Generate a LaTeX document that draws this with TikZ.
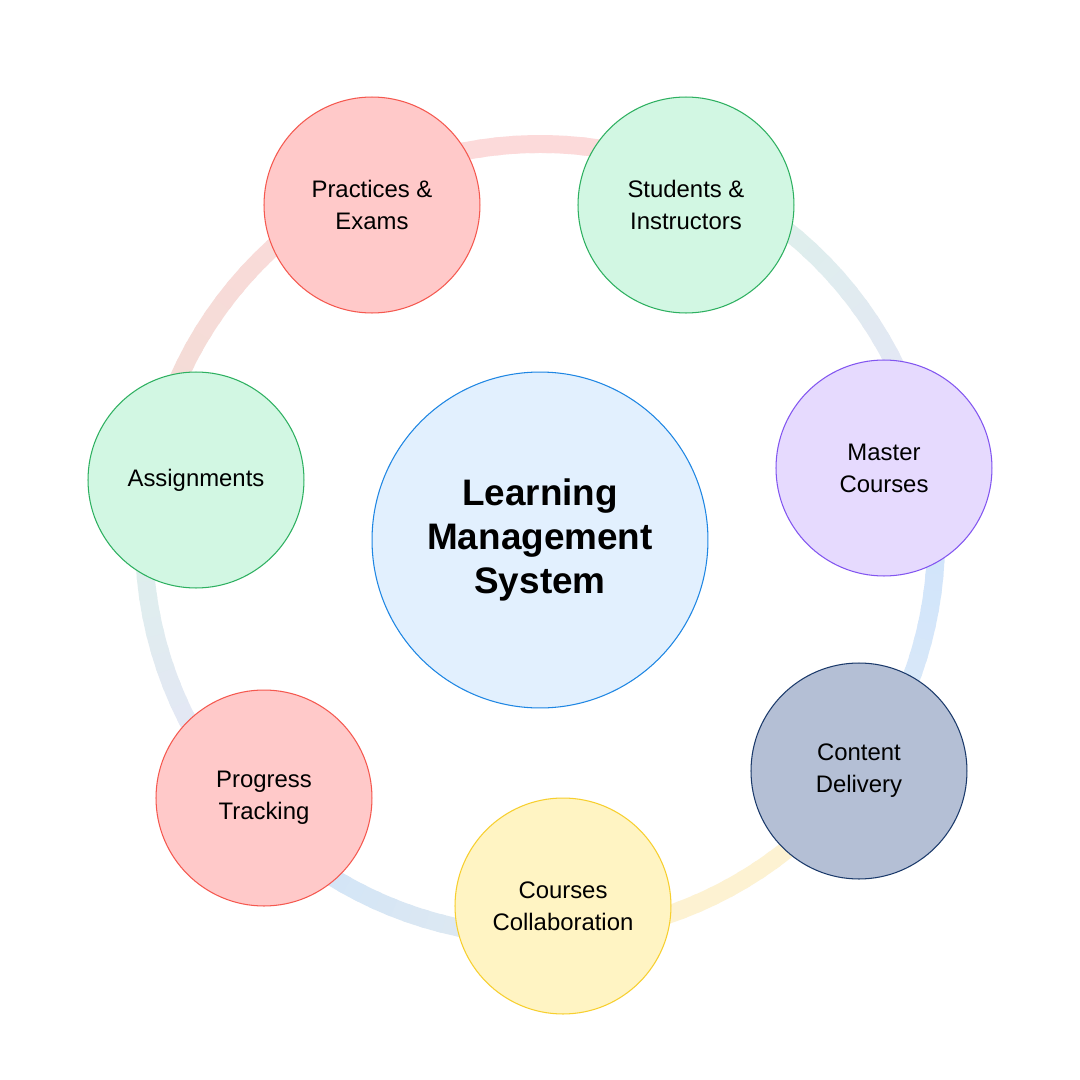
\documentclass[tikz,border=0pt]{standalone}
\usepackage{fontspec}
\setmainfont{Liberation Sans}
\definecolor{red1}{HTML}{FFC9C9}
\definecolor{red2}{HTML}{F5584F}
\definecolor{green1}{HTML}{D2F7E3}
\definecolor{green2}{HTML}{2DB060}
\definecolor{violet1}{HTML}{E6DAFE}
\definecolor{violet2}{HTML}{8255F0}
\definecolor{navy1}{HTML}{B4BFD5}
\definecolor{navy2}{HTML}{1B3A6B}
\definecolor{yellow1}{HTML}{FFF4C3}
\definecolor{yellow2}{HTML}{F7CF2E}
\definecolor{blue1}{HTML}{E2F0FE}
\definecolor{blue2}{HTML}{1E86E3}
% ring colours
\definecolor{ringpink}{HTML}{FCDADA}
\definecolor{ringgreen}{HTML}{DCF3E7}
\definecolor{ringlav}{HTML}{E6E3FA}
\definecolor{ringblue}{HTML}{CDE3FB}
\definecolor{ringpale}{HTML}{DDEAF8}
\definecolor{ringyellow}{HTML}{FDF2D2}
\definecolor{ringgray}{HTML}{E2EAEE}
\definecolor{ringpeach}{HTML}{F2DDD6}

\begin{document}
\begin{tikzpicture}[x=0.02cm,y=0.02cm,
  item/.style={circle,minimum size=4.32cm,inner sep=0pt,line width=0.6pt,align=center,
    font=\fontsize{13.6}{18.1}\selectfont},
  hub/.style={circle,minimum size=6.72cm,inner sep=0pt,line width=0.6pt,align=center,
    font=\bfseries\fontsize{21}{25}\selectfont}]
\useasboundingbox[fill=white] (-540,-540) rectangle (540,540);
% ring
\foreach \s/\e/\ca/\cb in {116.6/66.5/ringpink/ringpink,
    66.5/11.8/ringgreen/ringlav,
    11.8/-35.9/ringblue/ringpale,
    -35.9/-86.4/ringyellow/ringyellow,
    -86.4/-136.9/ringgray/ringblue,
    -136.9/-189.9/ringlav/ringgreen,
    -189.9/-243.4/ringpeach/ringpink} {
  \foreach \i in {0,...,19} {
    \pgfmathsetmacro\a{\s+(\e-\s)*\i/20}
    \pgfmathsetmacro\b{\s+(\e-\s)*(\i+1.3)/20}
    \pgfmathtruncatemacro\p{100-5*\i}
    \draw[line width=10.2pt,draw=\ca!\p!\cb] (\a:396) arc[start angle=\a,end angle=\b,radius=396];
  }
}
% nodes
\node[hub,fill=blue1,draw=blue2] (lms) at (0,0) {Learning\\Management\\System};
\node[item,fill=red1,draw=red2] (prac) at (-168,335) {Practices \&\\Exams};
\node[item,fill=green1,draw=green2] (stud) at (146,335) {Students \&\\Instructors};
\node[item,fill=violet1,draw=violet2] (mast) at (344,72) {Master\\Courses};
\node[item,fill=navy1,draw=navy2] (cont) at (319,-231) {Content\\Delivery};
\node[item,fill=yellow1,draw=yellow2] (coll) at (23,-366) {Courses\\Collaboration};
\node[item,fill=red1,draw=red2] (prog) at (-276,-258) {Progress\\Tracking};
\node[item,fill=green1,draw=green2] (assi) at (-344,60) {Assignments};
\end{tikzpicture}
\end{document}
